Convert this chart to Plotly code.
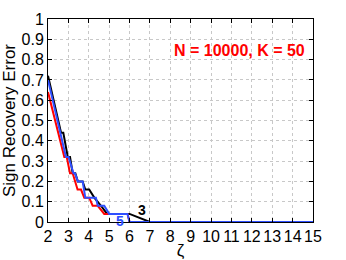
import plotly.graph_objects as go

# Data
black_x = [2, 2.64, 2.75, 2.97, 3.08, 3.21, 3.34, 3.46, 3.7, 3.83, 4.02, 4.27, 4.6, 4.9, 6.0, 7.0, 15]
black_y = [0.72, 0.44, 0.44, 0.32, 0.32, 0.24, 0.24, 0.2, 0.2, 0.16, 0.16, 0.12, 0.08, 0.04, 0.04, 0, 0]

red_x = [2, 2.8, 2.92, 3.08, 3.21, 3.33, 3.45, 3.62, 3.78, 4.02, 4.19, 4.44, 4.76, 5.9, 6.0, 15]
red_y = [0.64, 0.32, 0.32, 0.24, 0.24, 0.2, 0.16, 0.16, 0.12, 0.12, 0.08, 0.08, 0.04, 0.04, 0, 0]

blue_x = [2, 2.88, 3.01, 3.25, 3.32, 3.47, 3.7, 3.83, 4.35, 4.44, 4.76, 5.0, 5.9, 6.0, 15]
blue_y = [0.70, 0.32, 0.32, 0.24, 0.24, 0.2, 0.2, 0.12, 0.12, 0.08, 0.08, 0.04, 0.04, 0, 0]

x_ticks = list(range(2, 16))
y_ticks = [0, 0.1, 0.2, 0.3, 0.4, 0.5, 0.6, 0.7, 0.8, 0.9, 1]
y_tick_text = ["0", "0.1", "0.2", "0.3", "0.4", "0.5", "0.6", "0.7", "0.8", "0.9", "1"]

font = "Liberation Sans, Arial, sans-serif"

fig = go.Figure()
fig.add_trace(go.Scatter(x=black_x, y=black_y, mode="lines",
                         line=dict(color="black", width=2), showlegend=False))
fig.add_trace(go.Scatter(x=red_x, y=red_y, mode="lines",
                         line=dict(color="#ff0000", width=2), showlegend=False))
fig.add_trace(go.Scatter(x=blue_x, y=blue_y, mode="lines",
                         line=dict(color="#2f4fff", width=2), showlegend=False))

fig.add_annotation(x=14.7, y=0.845, xanchor="right", text="<b>N = 10000, K = 50</b>",
                   showarrow=False, font=dict(family=font, size=16, color="#ff0000"))
fig.add_annotation(x=6.6, y=0.06, text="<b>3</b>", showarrow=False,
                   font=dict(family=font, size=14, color="black"))
fig.add_annotation(x=5.55, y=0.005, text="<b>5</b>", showarrow=False,
                   font=dict(family=font, size=14, color="#2f4fff"))

axis_common = dict(showline=True, linecolor="black", linewidth=1, mirror="ticks",
                   ticks="inside", ticklen=4, tickcolor="black",
                   showgrid=True, gridcolor="#c8c8c8", griddash="dot", gridwidth=1,
                   zeroline=False, automargin=False,
                   tickfont=dict(family=font, size=16, color="black"))

fig.update_xaxes(range=[2, 15], tickvals=x_ticks, ticklabelstandoff=0,
                 title=dict(text="ζ", standoff=0,
                            font=dict(family=font, size=17, color="black")), **axis_common)
fig.update_yaxes(range=[0, 1], tickvals=y_ticks, ticktext=y_tick_text, ticklabelstandoff=0,
                 title=dict(text="Sign Recovery Error", standoff=2,
                            font=dict(family=font, size=17, color="black")), **axis_common)

fig.update_layout(width=346, height=260, margin=dict(l=48, r=33, t=19, b=38),
                  plot_bgcolor="white", paper_bgcolor="white")
fig.write_html("out.html", config={"displayModeBar": False},
               post_script="document.body.style.margin='0px';document.body.style.overflow='hidden';")
